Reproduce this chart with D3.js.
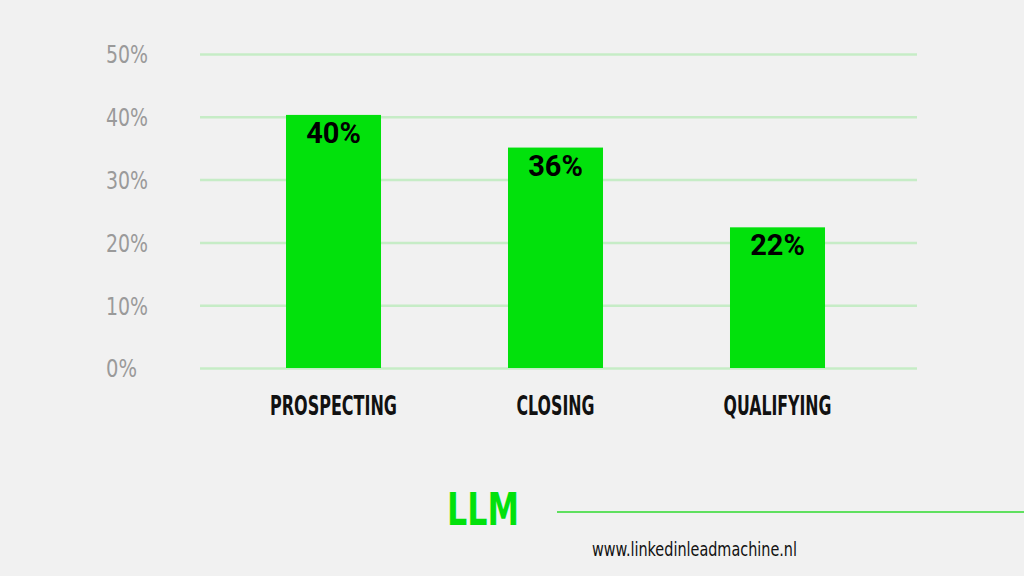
<!DOCTYPE html>
<html>
<head>
<meta charset="utf-8">
<script src="https://cdn.jsdelivr.net/npm/d3@7"></script>
<style>
  html, body { margin: 0; padding: 0; background: #f1f1f1; }
  svg { display: block; }
</style>
</head>
<body>
<svg id="chart" width="1024" height="576"></svg>
<script>
const categories = ["PROSPECTING", "CLOSING", "QUALIFYING"];
const values = [40.3, 35.1, 22.4];
const valueLabels = ["40%", "36%", "22%"];
const yTicks = [0, 10, 20, 30, 40, 50];
const yTickLabels = ["0%", "10%", "20%", "30%", "40%", "50%"];
const siteUrl = "www.linkedinleadmachine.nl";
const logoText = "LLM";

const svg = d3.select("#chart");
const condensed = "'Liberation Sans Narrow', 'DejaVu Sans Condensed', 'Roboto Condensed', sans-serif";

svg.append("rect").attr("width", 1024).attr("height", 576).attr("fill", "#f1f1f1");

const y = d3.scaleLinear().domain([0, 50]).range([368, 54]);
const x = d3.scaleBand().domain(categories).range([222.5, 888.5])
  .paddingInner(0.572).paddingOuter(0.286);

const gridLeft = 200, gridRight = 917;

// gridlines + labels via axis
const axis = d3.axisLeft(y).tickValues(yTicks)
  .tickFormat((d, i) => yTickLabels[i])
  .tickSize(-(gridRight - gridLeft)).tickPadding(0);
const ag = svg.append("g").attr("transform", `translate(${gridLeft},0)`).call(axis);
ag.select(".domain").remove();
ag.selectAll(".tick line").attr("stroke", "#c6ecc6").attr("stroke-width", 2.5);
ag.selectAll(".tick text")
  .attr("x", -94).attr("dy", "0.37em")
  .attr("text-anchor", "start")
  .attr("textLength", (d, i) => yTickLabels[i].length === 2 ? 31 : 42)
  .attr("lengthAdjust", "spacingAndGlyphs")
  .attr("fill", "#9a9a9a")
  .style("font-family", condensed)
  .style("font-size", "24px");

// bars
svg.selectAll("rect.bar").data(categories).enter().append("rect")
  .attr("class", "bar")
  .attr("x", d => x(d))
  .attr("width", x.bandwidth())
  .attr("y", (d, i) => y(values[i]))
  .attr("height", (d, i) => y(0) - y(values[i]))
  .attr("fill", "#02e10c");

// value labels
svg.selectAll("text.val").data(categories).enter().append("text")
  .attr("class", "val")
  .attr("x", d => x(d) + x.bandwidth() / 2)
  .attr("y", (d, i) => y(values[i]) + 28)
  .attr("text-anchor", "middle")
  .attr("fill", "#000")
  .style("font-family", "Roboto, 'Liberation Sans', sans-serif")
  .style("font-weight", "700")
  .style("font-size", "29px")
  .text((d, i) => valueLabels[i]);

// category labels
const catWidths = [127, 78, 108];
svg.selectAll("text.cat").data(categories).enter().append("text")
  .attr("class", "cat")
  .attr("x", d => x(d) + x.bandwidth() / 2)
  .attr("y", 415)
  .attr("text-anchor", "middle")
  .attr("textLength", (d, i) => catWidths[i])
  .attr("lengthAdjust", "spacingAndGlyphs")
  .attr("fill", "#111")
  .style("font-family", condensed)
  .style("font-weight", "700")
  .style("font-size", "26px")
  .text(d => d);

// footer
svg.append("line")
  .attr("x1", 557).attr("x2", 1024).attr("y1", 512).attr("y2", 512)
  .attr("stroke", "#5fe05f").attr("stroke-width", 2);

svg.append("text")
  .attr("x", 447).attr("y", 525)
  .attr("textLength", 72).attr("lengthAdjust", "spacingAndGlyphs")
  .attr("fill", "#02e10c")
  .style("font-family", "'DejaVu Sans Condensed', sans-serif")
  .style("font-weight", "700")
  .style("font-size", "45px")
  .text(logoText);

svg.append("text")
  .attr("x", 592).attr("y", 556)
  .attr("textLength", 205).attr("lengthAdjust", "spacingAndGlyphs")
  .attr("fill", "#111")
  .style("font-family", condensed)
  .style("font-size", "20px")
  .text(siteUrl);
</script>
</body>
</html>
